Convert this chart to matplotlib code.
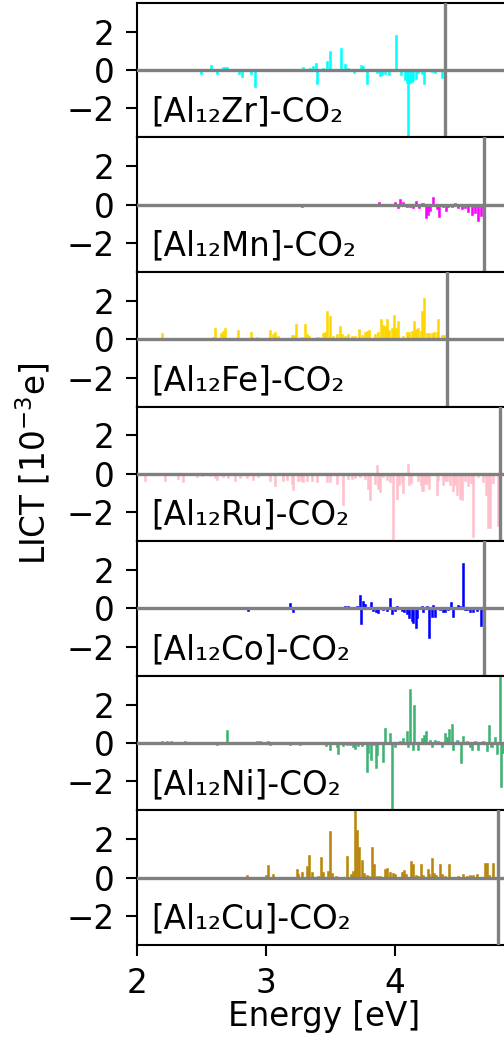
import matplotlib
matplotlib.use("Agg")
import matplotlib.pyplot as plt

# ---------------- data ----------------
labels = ["[Al₁₂Zr]-CO₂", "[Al₁₂Mn]-CO₂", "[Al₁₂Fe]-CO₂", "[Al₁₂Ru]-CO₂",
          "[Al₁₂Co]-CO₂", "[Al₁₂Ni]-CO₂", "[Al₁₂Cu]-CO₂"]
colors = ["cyan", "magenta", "gold", "pink", "blue", "mediumseagreen", "darkgoldenrod"]
vlines = [4.388, 4.690, 4.406, 4.814, 4.690, 4.870, 4.796]

zr_e = [2.494, 2.574, 2.623, 2.664, 2.682, 2.700, 2.791, 2.817, 2.881, 2.915, 3.121, 3.284,
        3.341, 3.362, 3.386, 3.396, 3.444, 3.470, 3.496, 3.579, 3.612, 3.638, 3.682, 3.734,
        3.755, 3.780, 3.863, 3.884, 3.902, 3.922, 3.956, 4.005, 4.044, 4.078, 4.090, 4.103,
        4.116, 4.129, 4.142, 4.163, 4.181, 4.207, 4.225, 4.284, 4.310, 4.362]
zr_v = [-0.2, 0.28, -0.2, 0.18, 0.18, 0.18, -0.2, -0.37, -0.2, -0.9, 0.05, 0.18,
        0.1, 0.2, 0.35, -0.75, 0.1, 0.45, 1.0, 1.12, 0.3, 0.1, -0.15, 0.25,
        0.2, -0.72, -0.15, -0.3, -0.25, -0.2, -0.25, 1.82, -0.25, -0.5, -0.7, -3.6,
        -0.7, -0.6, -0.5, -0.45, -0.15, -0.2, -0.75, -0.1, -0.15, -0.4]

mn_e = [2.437, 2.979, 3.277, 3.509, 3.879, 3.910, 3.935, 4.000, 4.026, 4.039, 4.065, 4.090,
        4.116, 4.137, 4.163, 4.189, 4.214, 4.240, 4.258, 4.271, 4.297, 4.323, 4.344, 4.370,
        4.395, 4.413, 4.439, 4.465, 4.491, 4.517, 4.543, 4.569, 4.594, 4.620, 4.646, 4.664]
mn_v = [-0.05, -0.05, -0.1, -0.05, 0.15, -0.05, -0.05, 0.15, -0.2, 0.3, 0.15, -0.1,
        -0.15, -0.2, 0.2, -0.2, 0.1, -0.7, -0.55, -0.35, 0.4, -0.25, -0.65, -0.15,
        -0.35, -0.1, -0.1, 0.1, -0.2, -0.25, -0.2, -0.4, -0.55, -0.45, -0.85, -0.6]

fe_e = [2.196, 2.592, 2.605, 2.649, 2.664, 2.682, 2.786, 2.881, 2.894, 2.928, 3.031, 3.052,
        3.070, 3.096, 3.140, 3.199, 3.217, 3.233, 3.277, 3.302, 3.320, 3.336, 3.393, 3.413,
        3.439, 3.457, 3.475, 3.496, 3.522, 3.548, 3.574, 3.592, 3.612, 3.638, 3.664, 3.690,
        3.723, 3.742, 3.767, 3.786, 3.801, 3.845, 3.871, 3.889, 3.904, 3.922, 3.941, 3.956,
        3.974, 3.992, 4.008, 4.026, 4.059, 4.090, 4.111, 4.129, 4.147, 4.163, 4.181, 4.199,
        4.209, 4.225, 4.246, 4.266, 4.284, 4.302, 4.323, 4.336, 4.362, 4.380]
fe_v = [0.3, 0.1, 0.6, 0.3, 0.45, 0.6, 0.5, 0.35, 0.1, 0.1, 0.5, 0.25,
        0.35, 0.15, 0.05, 0.2, 0.2, 0.8, 0.1, 0.8, 0.25, 0.15, 0.1, 0.1,
        0.3, 0.35, 1.45, 1.2, 0.15, 0.25, 0.7, 0.25, 0.15, 0.25, 0.15, 0.15,
        0.55, 0.2, 0.35, 0.45, 0.5, 0.25, 0.4, 1.05, 0.75, 0.7, 1.05, 0.5,
        0.6, 1.25, 0.6, 0.95, 0.15, 0.35, 0.4, 0.45, 0.95, 0.55, 0.6, 0.45,
        1.45, 2.15, 0.3, 0.3, 0.3, 0.35, 0.4, 1.05, 0.2, 0.2]

ru_e = [2.062, 2.217, 2.320, 2.354, 2.463, 2.501, 2.566, 2.605, 2.623, 2.669, 2.708, 2.760,
        2.798, 2.850, 2.902, 2.941, 3.031, 3.070, 3.134, 3.160, 3.199, 3.212, 3.251, 3.269,
        3.289, 3.315, 3.354, 3.393, 3.470, 3.496, 3.548, 3.600, 3.638, 3.664, 3.690, 3.729,
        3.767, 3.793, 3.806, 3.845, 3.863, 3.871, 3.881, 3.910, 3.935, 3.961, 3.987, 4.013,
        4.034, 4.052, 4.065, 4.103, 4.111, 4.121, 4.181, 4.199, 4.214, 4.233, 4.251, 4.266,
        4.323, 4.336, 4.370, 4.388, 4.406, 4.426, 4.447, 4.465, 4.483, 4.504, 4.517, 4.543,
        4.569, 4.587, 4.607, 4.646, 4.685, 4.705, 4.724, 4.737, 4.760, 4.800]
ru_v = [-0.4, -0.35, -0.25, -0.45, -0.15, -0.1, -0.1, -0.2, -0.3, -0.15, -0.2, -0.35,
        -0.2, -0.2, -0.3, -0.15, -0.4, -0.65, -0.35, -0.3, -0.55, -0.85, -0.4, -0.35,
        -0.45, -0.35, -0.4, -0.45, -0.45, -0.45, -0.55, -1.6, -0.25, -0.25, -0.2, -0.15,
        -0.25, -0.8, -1.35, -0.55, 0.45, -0.8, -0.95, -0.15, -0.3, -0.45, -3.4, -1.3,
        -0.6, -0.5, -1.0, 0.5, -0.6, -0.5, -0.35, -0.6, -0.9, -0.55, -0.55, -0.8,
        -1.1, -0.3, -0.6, -0.4, -0.35, -0.6, -0.9, -0.6, -1.1, -1.3, -1.35, -0.4,
        -0.65, -0.5, -3.3, -0.15, -0.45, -1.1, -2.8, -2.8, -0.5, -2.7]

co_e = [2.863, 3.186, 3.207, 3.444, 3.612, 3.638, 3.703, 3.726, 3.734, 3.749, 3.767, 3.811,
        3.832, 3.853, 3.871, 3.910, 3.935, 3.961, 3.974, 3.999, 4.013, 4.052, 4.070, 4.090,
        4.111, 4.129, 4.142, 4.160, 4.173, 4.207, 4.220, 4.246, 4.266, 4.284, 4.297, 4.310,
        4.349, 4.370, 4.388, 4.413, 4.432, 4.452, 4.491, 4.504, 4.525, 4.543, 4.561, 4.581,
        4.607, 4.633, 4.664]
co_v = [-0.15, 0.3, -0.2, 0.05, 0.1, 0.1, 0.15, 0.7, -0.8, 0.4, 0.25, 0.35,
        -0.15, -0.2, -0.25, -0.1, -0.15, 0.55, -0.3, -0.15, 0.1, -0.15, -0.2, -0.3,
        -0.5, -0.65, -0.75, -1.0, -0.5, 0.15, -0.2, 0.1, -1.55, -0.45, 0.2, -0.45,
        -0.1, -0.2, -0.2, -0.1, 0.35, -0.45, 0.2, 0.1, 2.35, -0.1, -0.1, -0.2,
        -0.2, -0.15, -0.9]

ni_e = [2.191, 2.217, 2.235, 2.261, 2.282, 2.302, 2.333, 2.372, 2.605, 2.623, 2.695, 2.747,
        2.928, 2.953, 3.018, 3.031, 3.186, 3.264, 3.465, 3.496, 3.548, 3.558, 3.600, 3.625,
        3.651, 3.677, 3.690, 3.716, 3.742, 3.780, 3.793, 3.811, 3.832, 3.850, 3.863, 3.910,
        3.922, 3.961, 3.979, 4.000, 4.039, 4.065, 4.090, 4.103, 4.116, 4.137, 4.147, 4.181,
        4.207, 4.225, 4.240, 4.271, 4.284, 4.310, 4.336, 4.362, 4.388, 4.406, 4.421, 4.439,
        4.452, 4.478, 4.491, 4.509, 4.525, 4.556, 4.581, 4.594, 4.620, 4.646, 4.685, 4.711,
        4.731, 4.749, 4.775, 4.788, 4.812, 4.822, 4.837]
ni_v = [0.12, 0.05, 0.08, 0.1, 0.05, 0.05, 0.03, 0.1, 0.05, -0.1, 0.7, 0.05,
        0.12, 0.1, 0.1, -0.1, -0.1, -0.1, -0.15, -0.35, -0.2, -0.55, -0.15, -0.1,
        -0.1, -0.2, -0.3, -0.15, -0.15, -1.5, -0.5, -0.9, -0.1, -1.3, -0.6, -1.0,
        0.8, 0.5, -3.6, -0.2, 0.1, 0.25, 0.6, -0.2, 2.8, -0.35, 2.0, -0.35,
        0.25, 0.4, 0.65, 0.15, -0.2, 0.15, 0.1, -0.2, 0.5, 0.3, 0.75, 1.0,
        -0.35, 0.15, 0.1, -1.05, 0.35, 0.1, -0.2, -0.35, 0.1, -0.35, 0.1, -0.4,
        0.95, -0.2, 0.3, -0.55, 3.6, -2.3, -0.5]

cu_e = [2.773, 2.855, 3.000, 3.018, 3.052, 3.121, 3.155, 3.238, 3.251, 3.277, 3.315, 3.333,
        3.354, 3.406, 3.424, 3.439, 3.478, 3.496, 3.514, 3.543, 3.561, 3.631, 3.656, 3.672,
        3.690, 3.708, 3.724, 3.742, 3.760, 3.780, 3.801, 3.824, 3.840, 3.858, 3.884, 3.910,
        3.922, 3.941, 3.961, 3.982, 4.000, 4.026, 4.052, 4.070, 4.085, 4.124, 4.142, 4.163,
        4.181, 4.202, 4.220, 4.253, 4.266, 4.284, 4.302, 4.318, 4.349, 4.367, 4.388, 4.421,
        4.491, 4.530, 4.561, 4.581, 4.602, 4.633, 4.698, 4.711, 4.731, 4.762]
cu_v = [0.05, 0.12, 0.15, 0.65, 0.2, 0.05, 0.05, 0.45, 0.2, 0.3, 0.6, 1.15,
        0.3, 0.1, 1.05, 0.3, 0.35, 2.4, 0.25, 0.1, 0.05, 1.1, 0.2, 0.35,
        3.5, 2.5, 1.6, 0.9, 0.25, 0.15, 0.1, 1.6, 0.7, 0.1, 0.1, 0.05,
        0.45, 0.5, 0.3, 0.25, 0.2, 0.05, 0.3, 0.4, 0.2, 0.85, 0.7, 0.15,
        0.1, 0.7, 0.15, 0.45, 0.2, 1.0, 0.25, 0.15, 0.7, 0.2, 0.1, 0.7,
        0.1, 0.2, 0.1, 0.15, 0.15, 0.2, 0.75, 0.75, 0.15, 0.75]

energies = [zr_e, mn_e, fe_e, ru_e, co_e, ni_e, cu_e]
values = [zr_v, mn_v, fe_v, ru_v, co_v, ni_v, cu_v]

xticks = [2, 3, 4]
yticks = [-2, 0, 2]

# ---------------- figure ----------------
W, H = 504, 1040
fig = plt.figure(figsize=(W / 100, H / 100), dpi=100)
plt.rcParams['font.family'] = ['DejaVu Sans']
fs = 23.5

left = 137 / W
width = 374 / W
top = 1 - 2.7 / H
ph = 134.6 / H

axes = []
for i in range(7):
    ax = fig.add_axes([left, top - (i + 1) * ph, width, ph])
    ax.bar(energies[i], values[i], width=0.016, color=colors[i],
           edgecolor=colors[i], linewidth=0.4, zorder=2)
    ax.axhline(0, color='gray', lw=2.4, zorder=3)
    ax.axvline(vlines[i], color='gray', lw=2.4, zorder=3)
    ax.set_xlim(2, 4.9)
    ax.set_ylim(-3.5, 3.5)
    ax.set_yticks(yticks)
    ax.set_xticks(xticks)
    ax.tick_params(labelsize=fs, length=8, width=1.5, pad=8)
    for s in ax.spines.values():
        s.set_linewidth(1.5)
    ax.text(2.11, -2.65, labels[i], fontsize=fs, va='baseline', ha='left')
    if i < 6:
        ax.tick_params(axis='x', bottom=False, labelbottom=False)
    axes.append(ax)

axes[-1].set_xlabel('Energy [eV]', fontsize=fs, labelpad=0)
fig.text(33 / W, 1 - 464 / H, 'LICT [10$^{-3}$e]', rotation=90, fontsize=fs,
         va='center', ha='center')

fig.savefig('out.png', dpi=100)
